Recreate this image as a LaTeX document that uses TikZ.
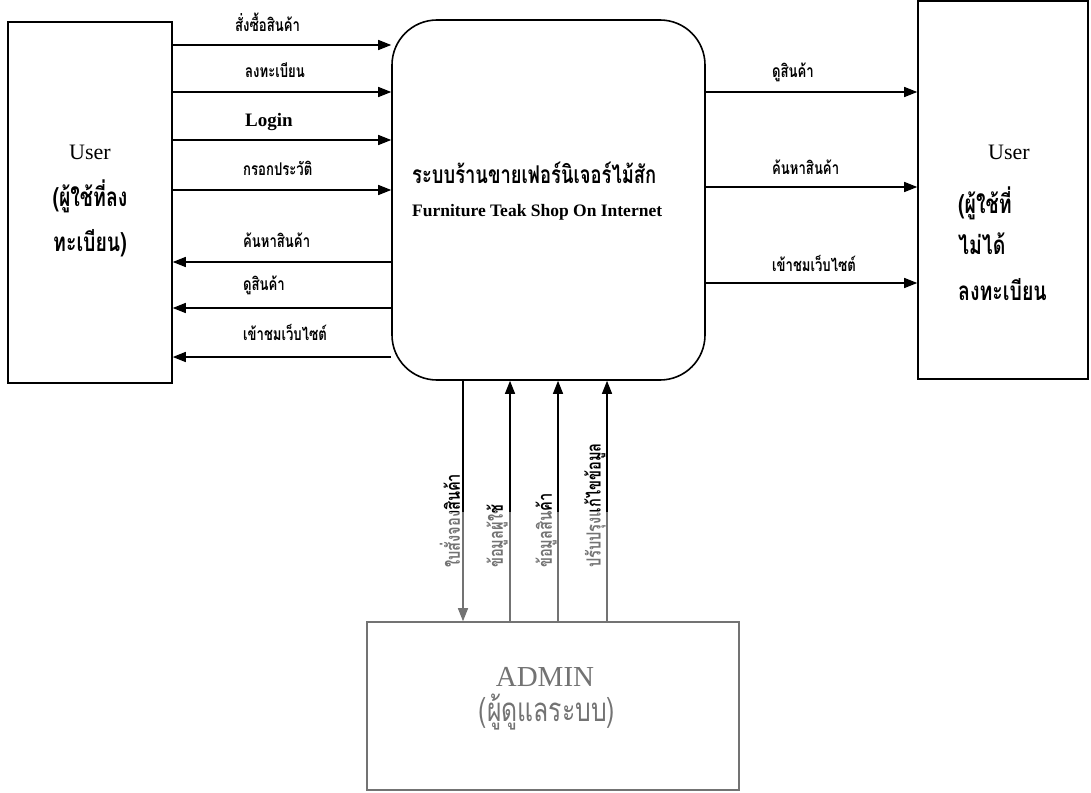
\documentclass[tikz,border=0pt]{standalone}
\usepackage{fontspec}
\setmainfont{Liberation Serif}
\newfontfamily\thai[Script=Thai,FakeStretch=0.75]{Loma}
\usetikzlibrary{arrows.meta}
\begin{document}
\begin{tikzpicture}[x=1pt,y=-1pt,
  box/.style={draw, line width=1.6pt, inner sep=0pt},
  flow/.style={line width=1.3pt, -{Triangle[length=13pt,width=10pt]}},
  lbl/.style={font=\thai\bfseries\fontsize{17.5}{20}\selectfont, anchor=west, inner sep=0pt},
  vlbl/.style={lbl, font=\thai\bfseries\fontsize{19.5}{22}\selectfont, rotate=90},
  bigth/.style={font=\thai\bfseries\fontsize{26}{30}\selectfont, inner sep=0pt},
  user/.style={font=\fontsize{22}{24}\selectfont, inner sep=0pt}]
\useasboundingbox (0,0) rectangle (1091,792);
% boxes
\node[box, minimum width=164pt, minimum height=361pt] (L) at (90,202.5) {};
\node[box, rounded corners=45pt, minimum width=313pt, minimum height=360pt] (C) at (548.5,200) {};
\node[box, minimum width=170pt, minimum height=378pt] (R) at (1003,190) {};
\node[box, minimum width=372pt, minimum height=168pt] (A) at (553,706) {};
% box texts
\node[user] (lu) at (90,152) {User};
\node[bigth] (l2) at (90,196) {(ผู้ใช้ที่ลง};
\node[bigth] (l3) at (90,243) {ทะเบียน)};
\node[user] (ru) at (1009,152) {User};
\node[bigth, anchor=west] (r2) at (958,203) {(ผู้ใช้ที่};
\node[bigth, anchor=west] (r3) at (958,244) {ไม่ได้};
\node[bigth, anchor=west] (r4) at (958,290) {ลงทะเบียน};
\node[bigth, anchor=west, font=\thai\bfseries\fontsize{24.5}{28}\selectfont] (c1) at (412,173) {ระบบร้านขายเฟอร์นิเจอร์ไม้สัก};
\node[font=\bfseries\fontsize{17.5}{20}\selectfont, anchor=west, inner sep=0pt] (c2) at (412,212) {Furniture Teak Shop On Internet};
\node[font=\fontsize{29}{31}\selectfont, inner sep=0pt] (a1) at (545,677) {ADMIN};
\node[font=\thai\fontsize{33}{36}\selectfont, inner sep=0pt] (a2) at (547,712) {(ผู้ดูแลระบบ)};
% row coordinates
\coordinate (y1) at (0,45);
\coordinate (y2) at (0,92);
\coordinate (y3) at (0,140);
\coordinate (y4) at (0,190);
\coordinate (y5) at (0,262);
\coordinate (y6) at (0,308);
\coordinate (y7) at (0,357);
\coordinate (z1) at (0,92);
\coordinate (z2) at (0,187);
\coordinate (z3) at (0,283);
\coordinate (x1) at (463,0);
\coordinate (x2) at (510,0);
\coordinate (x3) at (558,0);
\coordinate (x4) at (607,0);
% left inputs
\draw[flow] (L.east |- y1) -- (C.west |- y1);
\draw[flow] (L.east |- y2) -- (C.west |- y2);
\draw[flow] (L.east |- y3) -- (C.west |- y3);
\draw[flow] (L.east |- y4) -- (C.west |- y4);
\draw[flow] (C.west |- y5) -- (L.east |- y5);
\draw[flow] (C.west |- y6) -- (L.east |- y6);
\draw[flow] (C.west |- y7) -- (L.east |- y7);
% right outputs
\draw[flow] (C.east |- z1) -- (R.west |- z1);
\draw[flow] (C.east |- z2) -- (R.west |- z2);
\draw[flow] (C.east |- z3) -- (R.west |- z3);
% vertical
\draw[flow] (C.south -| x1) -- (A.north -| x1);
\draw[flow] (A.north -| x2) -- (C.south -| x2);
\draw[flow] (A.north -| x3) -- (C.south -| x3);
\draw[flow] (A.north -| x4) -- (C.south -| x4);
% labels
\node[lbl] (t1) at (235,22) {สั่งซื้อสินค้า};
\node[lbl] (t2) at (245,70) {ลงทะเบียน};
\node[lbl, font=\bfseries\fontsize{19}{21}\selectfont] (t3) at (245,122) {Login};
\node[lbl] (t4) at (243,168) {กรอกประวัติ};
\node[lbl] (t5) at (243,240) {ค้นหาสินค้า};
\node[lbl] (t6) at (243,285) {ดูสินค้า};
\node[lbl] (t7) at (243,332) {เข้าชมเว็บไซต์};
\node[lbl] (s1) at (772,72) {ดูสินค้า};
\node[lbl] (s2) at (772,167) {ค้นหาสินค้า};
\node[lbl] (s3) at (772,263) {เข้าชมเว็บไซต์};
\node[vlbl] (v1) at (450,568) {ใบสั่งจองสินค้า};
\node[vlbl] (v2) at (497,568) {ข้อมูลผู้ใช้};
\node[vlbl] (v3) at (546,568) {ข้อมูลสินค้า};
\node[vlbl] (v4) at (595,568) {ปรับปรุงแก้ไขข้อมูล};
% faded lower area (watermark tint)
\fill[white, opacity=0.45] (230,512) rectangle (860,792);
\end{tikzpicture}
\end{document}
